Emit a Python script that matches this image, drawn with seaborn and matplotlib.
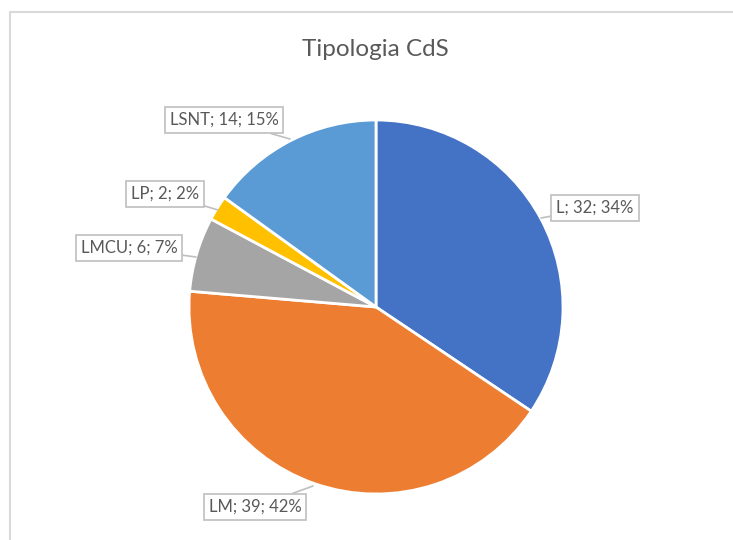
import matplotlib
matplotlib.use("Agg")
import matplotlib.pyplot as plt
import seaborn as sns

# dati
categorie = ["L", "LM", "LMCU", "LP", "LSNT"]
valori = [32, 39, 6, 2, 14]
percentuali = [34, 42, 7, 2, 15]
colori = ["#4472C4", "#ED7D31", "#A5A5A5", "#FFC000", "#5B9BD5"]

# posizioni delle etichette (pixel) e punta del richiamo
pos_etichette = {
    "L": ((595, 208), (541, 218)),
    "LM": ((255, 507), (313, 486)),
    "LMCU": ((129, 248), (196, 257)),
    "LP": ((165, 194), (218, 210)),
    "LSNT": ((224, 120), (290, 139)),
}

sns.set_theme(style="white")
plt.rcParams["font.family"] = ["Lato", "DejaVu Sans"]

W, H = 733, 540
fig = plt.figure(figsize=(W / 100, H / 100), dpi=100)
ax = fig.add_axes([0, 0, 1, 1])

ax.pie(
    valori,
    colors=colori,
    startangle=90,
    counterclock=False,
    center=(376, H - 307),
    radius=187,
    wedgeprops={"edgecolor": "white", "linewidth": 2},
)
ax.set_xlim(0, W)
ax.set_ylim(0, H)
ax.set_aspect("equal")
ax.axis("off")

# cornice del grafico (solo lati visibili)
ax.plot([10, 10, W], [0, H - 12, H - 12], color="#D9D9D9", lw=1.5, clip_on=False)

ax.text(375, H - 50, "Tipologia CdS", ha="center", va="center",
        fontsize=17.5, color="#595959")

for cat, val, pct in zip(categorie, valori, percentuali):
    (tx, ty), (px, py) = pos_etichette[cat]
    ax.annotate(
        f"{cat}; {val}; {pct}%",
        xy=(px, H - py),
        xytext=(tx, H - ty),
        ha="center",
        va="center",
        fontsize=12,
        color="#595959",
        bbox=dict(boxstyle="square,pad=0.3", fc="white", ec="#BFBFBF", lw=1.2),
        arrowprops=dict(arrowstyle="-", color="#BFBFBF", lw=1.2, shrinkA=0, shrinkB=0),
    )

fig.savefig("out.png", dpi=100)
